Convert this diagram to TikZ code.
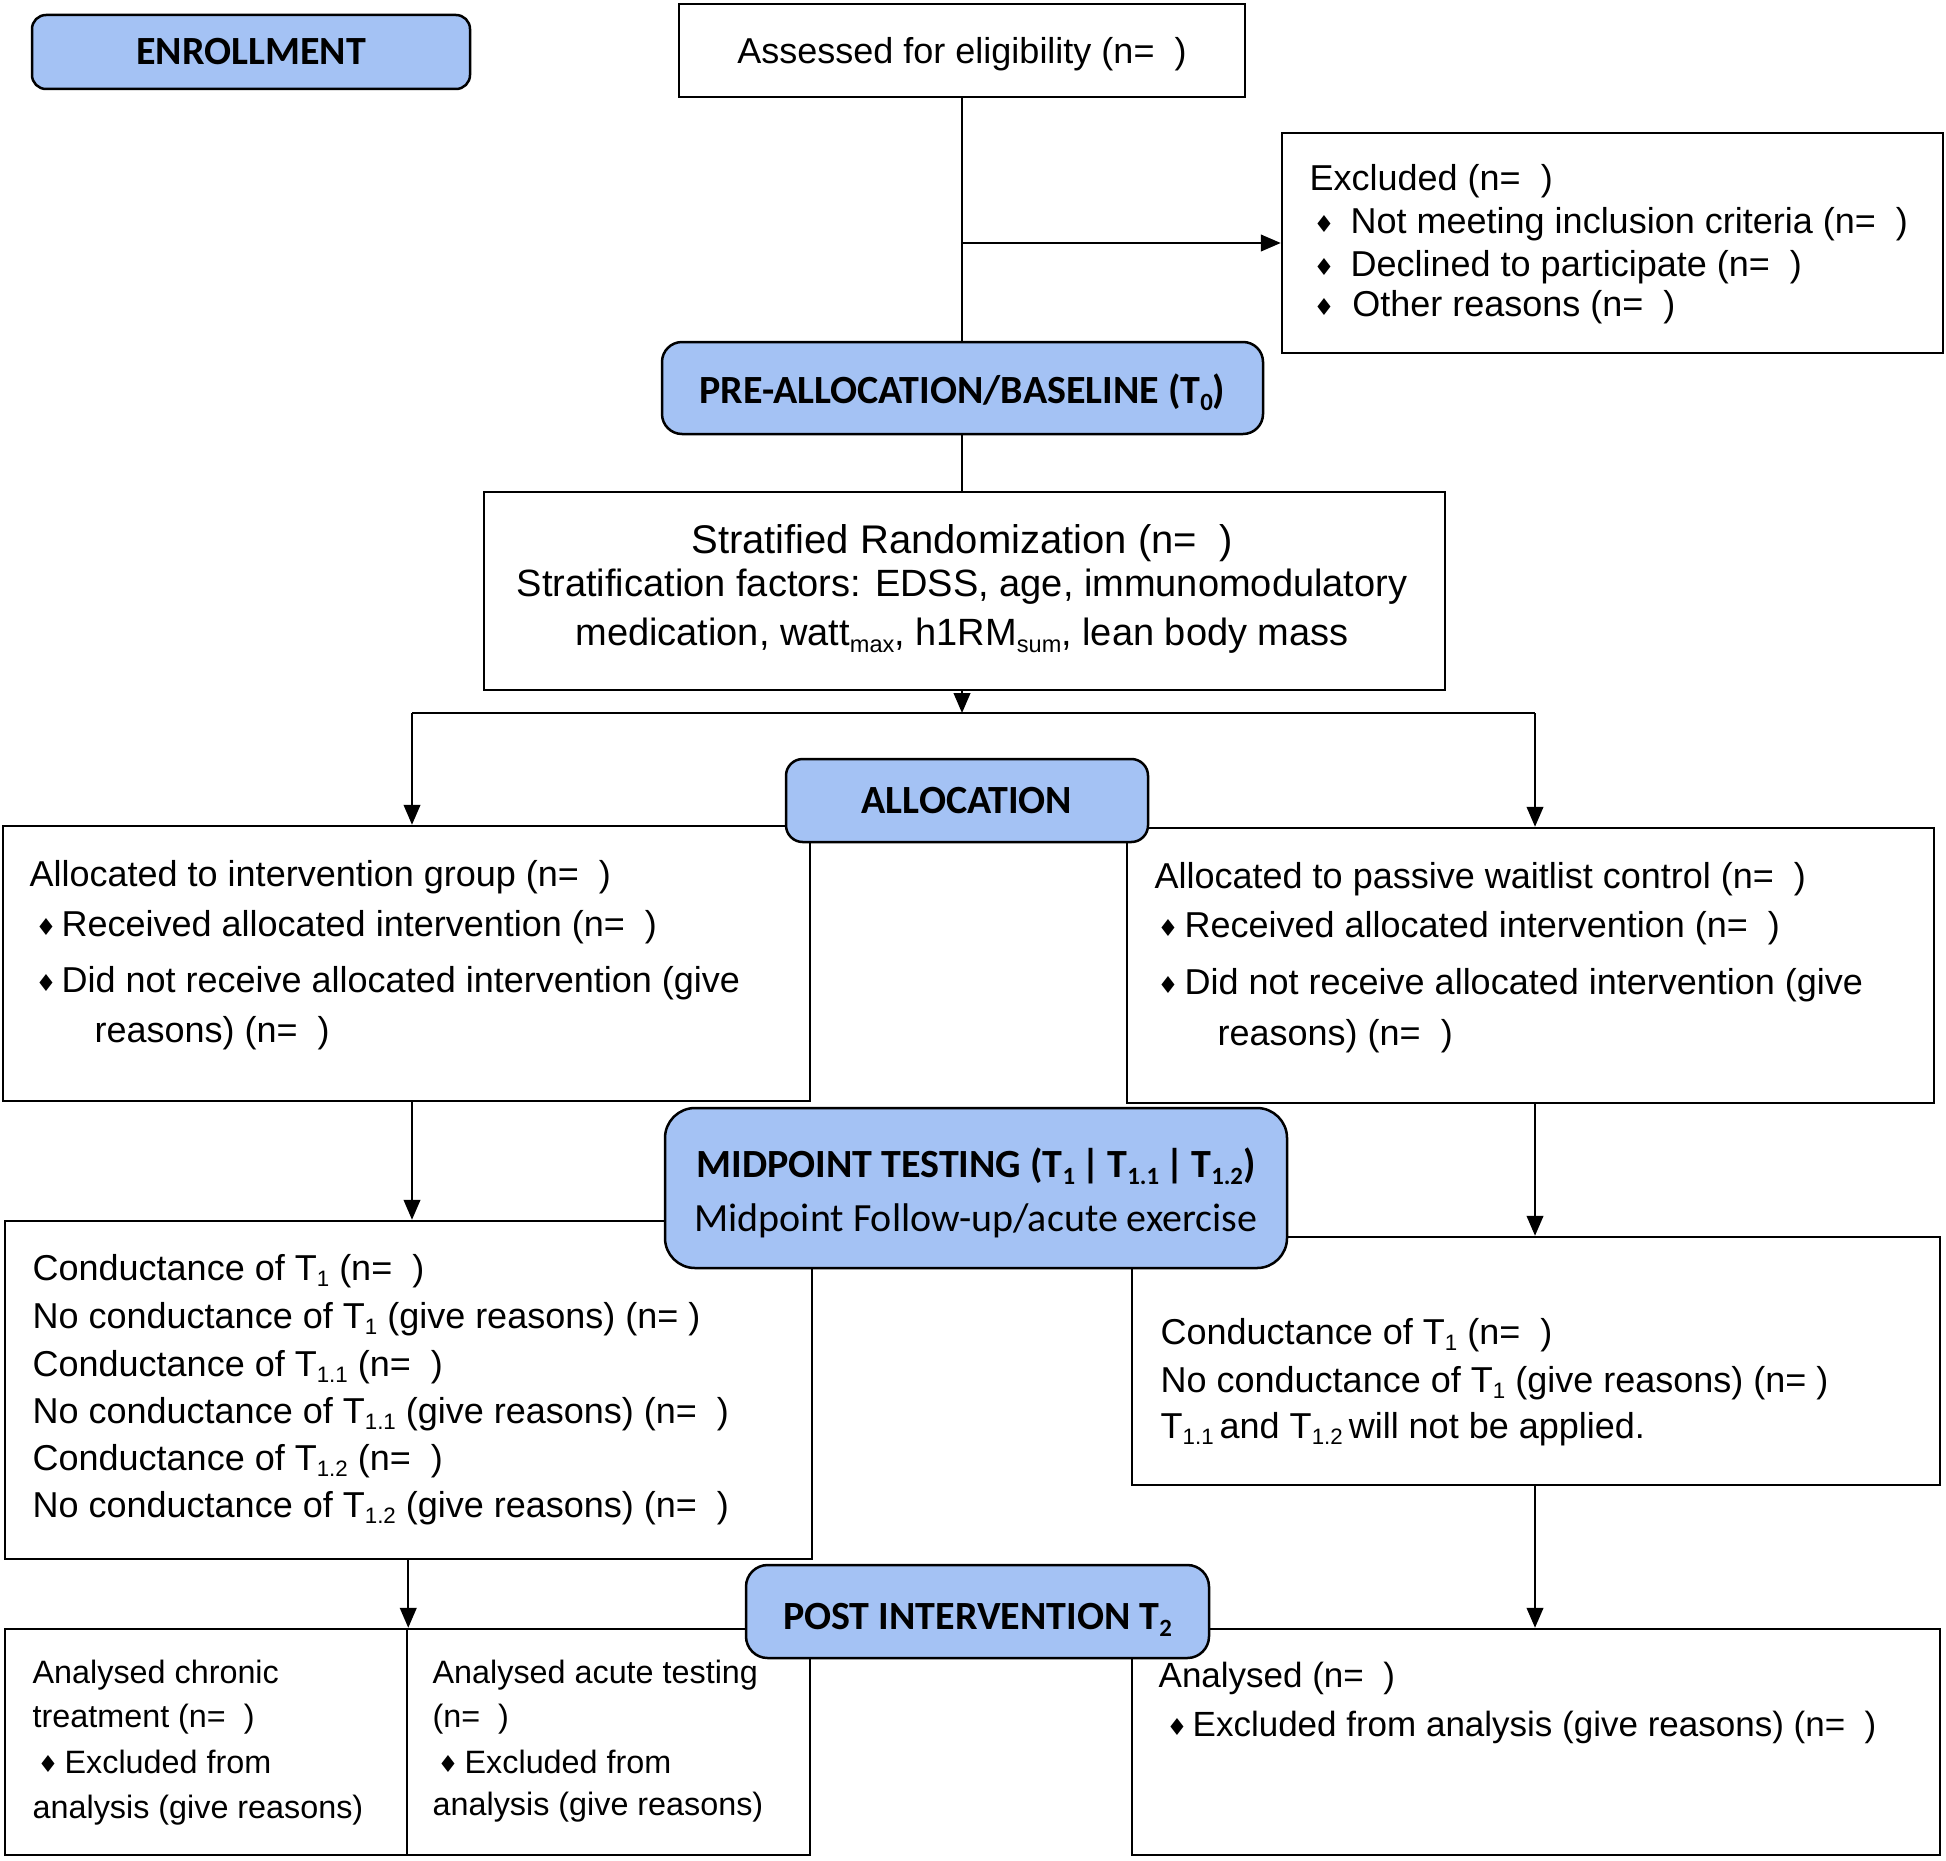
\documentclass[tikz,border=0pt]{standalone}
\usepackage{fontspec}
\usepackage{graphicx}
\setmainfont{Liberation Sans}
\newfontfamily\carfont{Carlito}
\newfontfamily\djvfont{DejaVu Sans}
\usetikzlibrary{arrows.meta,fit}
\definecolor{hdrblue}{HTML}{A4C2F4}
\newcommand\dia[1]{\makebox[#1][l]{\raisebox{0.2pt}{\djvfont\fontsize{7}{7}\selectfont ♦}}}
\newcommand\sbs[1]{\raisebox{-0.35ex}{\scalebox{0.62}{#1}}}
\begin{document}
\begin{tikzpicture}[x=0.3pt,y=-0.3pt,
  box/.style={draw, line width=0.75pt, inner sep=0pt, fill=white},
  hdr/.style={draw, line width=0.75pt, inner sep=0pt, fill=hdrblue},
  hdrtx/.style={inner sep=0pt, align=center, font=\carfont\bfseries\fontsize{12}{14}\selectfont},
  tx/.style={anchor=base west, inner sep=0pt, font=\fontsize{10.8}{13}\selectfont},
  txs/.style={tx, font=\fontsize{9.7}{12}\selectfont},
  txm/.style={tx, font=\fontsize{10.5}{12}\selectfont},
  ln/.style={line width=0.6pt},
  arr/.style={line width=0.6pt, -{Triangle[length=6pt,width=5pt]}},
]
\useasboundingbox (0,0) rectangle (1946,1860);

% ---- white boxes
\node[box, fit={(679,4) (1245,97)}] (ass) {};
\node[tx, anchor=center, yshift=-1.2pt] (asst) at (ass.center) {Assessed for eligibility (n=\ \ )};

\node[box, fit={(1282,133) (1943,353)}] (excl) {};
\node[tx] (ex0) at (1309,191) {Excluded (n=\ \ )};
\node[tx] (ex1) at (1313,233) {\dia{11.1pt}Not meeting inclusion criteria (n=\ \ )};
\node[tx] (ex2) at (1313,276) {\dia{11.1pt}Declined to participate (n=\ \ )};
\node[tx] (ex3) at (1313,316) {\dia{11.6pt}Other reasons (n=\ \ )};

\node[box, fit={(484,492) (1445,690)}] (strat) {};
\node[tx, anchor=base, font=\fontsize{12}{14}\selectfont] (st1) at (962,553) {Stratified Randomization (n=\ \ )};
\node[tx, anchor=base, font=\fontsize{11.4}{13}\selectfont] (st2) at (962,596) {Stratification factors: EDSS, age, immunomodulatory};
\node[tx, anchor=base, font=\fontsize{11.4}{13}\selectfont] (st3) at (962,645) {medication, watt\sbs{max}, h1RM\sbs{sum}, lean body mass};

\node[box, fit={(3,826) (810,1101)}] (allL) {};
\node[tx] (al0) at (29,886) {Allocated to intervention group (n=\ \ )};
\node[tx] (al1) at (35,936) {\dia{7.8pt}Received allocated intervention (n=\ \ )};
\node[tx] (al2) at (35,992) {\dia{7.8pt}Did not receive allocated intervention (give};
\node[tx] (al3) at (94,1042) {reasons) (n=\ \ )};

\node[box, fit={(1127,828) (1934,1103)}] (allR) {};
\node[tx] (ar0) at (1154,888) {Allocated to passive waitlist control (n=\ \ )};
\node[tx] (ar1) at (1157,937) {\dia{8.1pt}Received allocated intervention (n=\ \ )};
\node[tx] (ar2) at (1157,994) {\dia{8.1pt}Did not receive allocated intervention (give};
\node[tx] (ar3) at (1217,1045) {reasons) (n=\ \ )};

\node[box, fit={(5,1221) (812,1559)}] (conL) {};
\node[tx] (cl1) at (32,1280) {Conductance of T\sbs{1} (n=\ \ )};
\node[tx] (cl2) at (32,1328) {No conductance of T\sbs{1} (give reasons) (n= )};
\node[tx] (cl3) at (32,1376) {Conductance of T\sbs{1.1} (n=\ \ )};
\node[tx] (cl4) at (32,1423) {No conductance of T\sbs{1.1} (give reasons) (n=\ \ )};
\node[tx] (cl5) at (32,1470) {Conductance of T\sbs{1.2} (n=\ \ )};
\node[tx] (cl6) at (32,1517) {No conductance of T\sbs{1.2} (give reasons) (n=\ \ )};

\node[box, fit={(1132,1237) (1940,1485)}] (conR) {};
\node[tx] (cr1) at (1160,1344) {Conductance of T\sbs{1} (n=\ \ )};
\node[tx] (cr2) at (1160,1392) {No conductance of T\sbs{1} (give reasons) (n= )};
\node[tx] (cr3) at (1160,1438) {T\sbs{1.1}\,and T\sbs{1.2}\,will not be applied.};

\node[box, fit={(5,1629) (407,1855)}] (anC) {};
\node[txs] (ac1) at (32,1683) {Analysed chronic};
\node[txs] (ac2) at (32,1727) {treatment (n=\ \ )};
\node[txs] (ac3) at (37,1773) {\dia{8.1pt}Excluded from};
\node[txs] (ac4) at (32,1818) {analysis (give reasons)};

\node[box, fit={(407,1629) (810,1855)}] (anA) {};
\node[txs] (aa1) at (432,1683) {Analysed acute testing};
\node[txs] (aa2) at (432,1727) {(n=\ \ )};
\node[txs] (aa3) at (437,1773) {\dia{8.1pt}Excluded from};
\node[txs] (aa4) at (432,1815) {analysis (give reasons)};

\node[box, fit={(1132,1629) (1940,1855)}] (anR) {};
\node[txm] (an1) at (1158,1687) {Analysed (n=\ \ )};
\node[txm] (an2) at (1166,1736) {\dia{7.8pt}Excluded from analysis (give reasons) (n=\ \ )};

% ---- connectors
\coordinate (split) at (962,713);
\coordinate (sl) at (412,713);
\coordinate (sr) at (1535,713);
\draw[ln] (ass.south) -- (ass.south |- 0,342);
\draw[arr] (ass.south |- excl.west) -- (excl.west);
\draw[ln] (ass.south |- 0,434) -- (ass.south |- strat.north);
\draw[arr] (ass.south |- strat.south) -- (split);
\draw[ln] (sl) -- (sr);
\draw[arr] (sl) -- (sl |- allL.north);
\draw[arr] (sr) -- (sr |- allR.north);
\draw[arr] (sl |- allL.south) -- (sl |- conL.north);
\draw[arr] (sr |- allR.south) -- (sr |- conR.north);
\draw[arr] (anC.north east |- conL.south) -- (anC.north east);
\draw[arr] (sr |- conR.south) -- (sr |- anR.north);

% ---- header boxes
\node[hdr, rounded corners=4.2pt, fit={(32,15) (470,89)}] (enr) {};
\node[hdrtx] (enrt) at (enr.center) {ENROLLMENT};
\node[hdr, rounded corners=6pt, fit={(662,342) (1263,434)}] (pre) {};
\node[hdrtx, yshift=-1.3pt] (pret) at (pre.center) {PRE-ALLOCATION/BASELINE (T\sbs{0})};
\node[hdr, rounded corners=5pt, fit={(786,759) (1148,842)}] (alloc) {};
\node[hdrtx] (alloct) at (alloc.center) {ALLOCATION};
\node[hdr, rounded corners=9pt, fit={(665,1108) (1287,1268)}] (mid) {};
\node[hdrtx, yshift=-1.5pt, font=\carfont\fontsize{12}{16.2}\selectfont] (midt) at (mid.center) {\textbf{MIDPOINT TESTING (T\sbs{1}\,|\,T\sbs{1.1}\,|\,T\sbs{1.2})}\\Midpoint Follow-up/acute exercise};
\node[hdr, rounded corners=6.5pt, fit={(746,1565) (1209,1658)}] (post) {};
\node[hdrtx, yshift=-2.4pt] (postt) at (post.center) {POST INTERVENTION T\sbs{2}};
\end{tikzpicture}
\end{document}
